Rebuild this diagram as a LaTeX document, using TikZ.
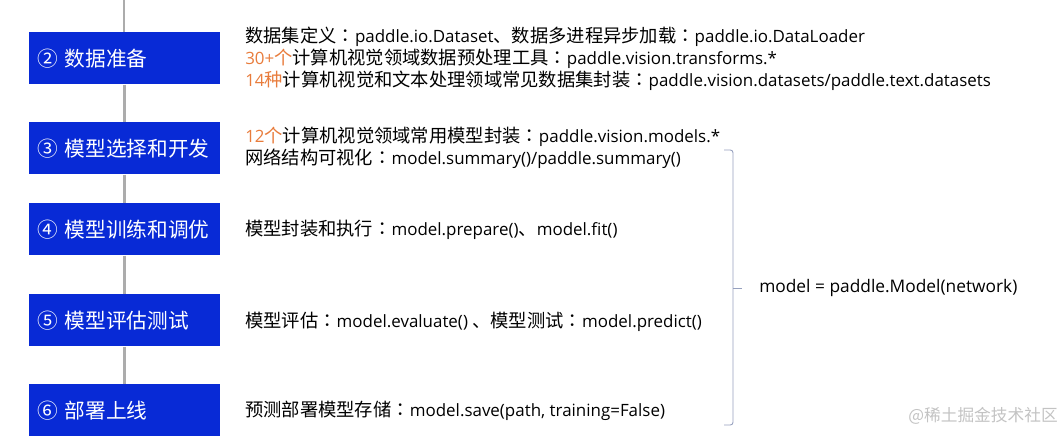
\documentclass[tikz,border=0pt]{standalone}
\usepackage{fontspec}
\setmainfont{Open Sans}
\newfontfamily\cjk{Noto Sans CJK SC}[Scale=1.08]
\newfontfamily\cjkjp{Noto Sans CJK JP}[Scale=1.08]
\newcommand{\zh}[1]{{\cjk #1}}
\newcommand{\fcolon}{{\cjkjp ：}}
\usetikzlibrary{backgrounds}

\definecolor{stepblue}{RGB}{8,42,214}
\definecolor{linegray}{RGB}{172,172,172}
\definecolor{numorange}{RGB}{232,124,60}
\definecolor{bracegray}{RGB}{150,160,190}
\definecolor{markgray}{RGB}{195,195,195}

\tikzset{
  stepbox/.style={fill=stepblue, draw=none, text=white, anchor=north west,
    minimum width=191*0.75pt, minimum height=52*0.75pt,
    text width=191*0.75pt-16*0.75pt, inner xsep=8*0.75pt, align=left,
    font=\cjk\fontsize{14.35}{17}\selectfont},
  infotext/.style={anchor=west, inner sep=0pt,
    font=\fontsize{12.7}{15}\selectfont},
}

\begin{document}
\begin{tikzpicture}[x=0.75pt, y=-0.75pt]

  \useasboundingbox (0,0) rectangle (1062,437);

  % ================================================================
  % Steps (blue boxes)
  % ================================================================

  \node[stepbox] (data)   at (29, 32)  {② 数据准备};
  \node[stepbox] (select) at (29, 122) {③ 模型选择和开发};
  \node[stepbox] (train)  at (29, 203) {④ 模型训练和调优};
  \node[stepbox] (eval)   at (29, 294) {⑤ 模型评估测试};
  \node[stepbox] (deploy) at (29, 384) {⑥ 部署上线};

  \coordinate (lineTop) at (124, 0);

  % --- gray line behind the steps ---
  \begin{pgfonlayer}{background}
    \draw[linegray, line width=2.2pt]
      (lineTop) -- (data.north -| lineTop) (data) -- (select)
      (select) -- (train) (train) -- (eval) (eval) -- (deploy);
  \end{pgfonlayer}

  % ================================================================
  % Descriptions
  % ================================================================

  \node[infotext] (dataA) at (245, 37)
    {\zh{数据集定义}\fcolon paddle.io.Dataset\zh{、数据多进程异步加载}\fcolon paddle.io.DataLoader};
  \node[infotext] (dataB) at (245, 59)
    {\textcolor{numorange}{30+\zh{个}}\zh{计算机视觉领域数据预处理工具}\fcolon paddle.vision.transforms.*};
  \node[infotext] (dataC) at (245, 81)
    {\textcolor{numorange}{14\zh{种}}\zh{计算机视觉和文本处理领域常见数据集封装}\fcolon paddle.vision.datasets/paddle.text.datasets};

  \node[infotext] (selectA) at (245, 137)
    {\textcolor{numorange}{12\zh{个}}\zh{计算机视觉领域常用模型封装}\fcolon paddle.vision.models.*};
  \node[infotext] (selectB) at (245, 159)
    {\zh{网络结构可视化}\fcolon model.summary()/paddle.summary()};

  \node[infotext] (trainA) at (245, 230)
    {\zh{模型封装和执行}\fcolon model.prepare()\zh{、}model.fit()};

  \node[infotext] (evalA) at (245, 322)
    {\zh{模型评估}\fcolon model.evaluate() \zh{、模型测试}\fcolon model.predict()};

  \node[infotext] (deployA) at (245, 411)
    {\zh{预测部署模型存储}\fcolon model.save(path, training=False)};

  % ================================================================
  % Bracket and shared model
  % ================================================================

  \node[infotext, font=\fontsize{13}{15}\selectfont] (model) at (759, 288)
    {model = paddle.Model(network)};

  \coordinate (braceTop) at (724, 150);
  \coordinate (braceBot) at (724, 425);
  \coordinate (braceTip) at (742, 288);

  \draw[bracegray, line width=0.7pt, rounded corners=2pt]
    (braceTop) -- (733, 150) -- (733, 425) -- (braceBot);
  \draw[bracegray, line width=0.7pt] (733, 288) -- (braceTip);

  % --- watermark ---
  \node[anchor=east, inner sep=0pt, text=markgray,
    font=\cjk\fontsize{11.6}{14}\selectfont] (mark) at (1058, 416) {@稀土掘金技术社区};

\end{tikzpicture}
\end{document}
